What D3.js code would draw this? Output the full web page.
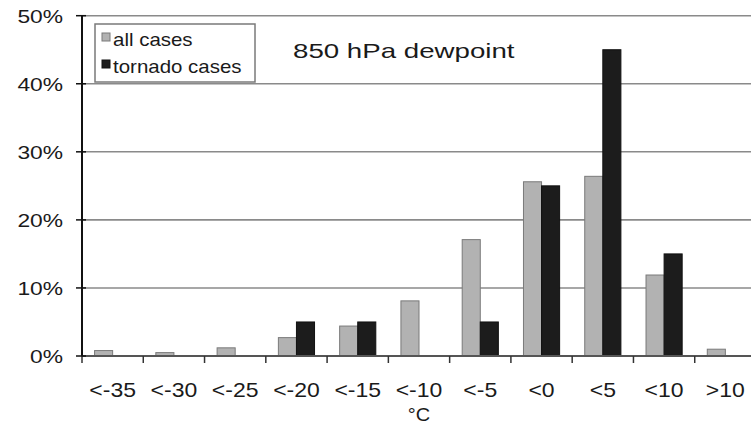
<!DOCTYPE html>
<html>
<head>
<meta charset="utf-8">
<script src="https://cdn.jsdelivr.net/npm/d3@7"></script>
<style>
  body { margin: 0; background: #fff; }
  text { font-family: "Liberation Sans", Arial, sans-serif; fill: #1a1a1a; }
</style>
</head>
<body>
<svg width="751" height="426"></svg>
<script>
// 850 hPa dewpoint distribution, all vs tornado cases

var categories = ["<-35", "<-30", "<-25", "<-20", "<-15", "<-10", "<-5", "<0", "<5", "<10", ">10"];
var allCases = [0.8, 0.5, 1.2, 2.7, 4.4, 8.1, 17.1, 25.6, 26.4, 11.9, 1.0];
var tornadoCases = [0, 0, 0, 5.0, 5.0, 0, 5.0, 25.0, 45.0, 15.0, 0];
var yTicks = [0, 10, 20, 30, 40, 50];
var seriesNames = ["all cases", "tornado cases"];

var svg = d3.select("svg"),
    width = +svg.attr("width"),
    height = +svg.attr("height");

var plotLeft = 82, plotRight = 756, plotTop = 15.7, plotBottom = 356;

var x0 = d3.scaleBand()
    .domain(categories)
    .range([plotLeft, plotRight])
    .paddingInner(0.41)
    .paddingOuter(0.205);

var x1 = d3.scaleBand()
    .domain(seriesNames)
    .range([0, x0.bandwidth()]);

var y = d3.scaleLinear()
    .domain([0, 50])
    .range([plotBottom, plotTop]);

var fills = { "all cases": "#b2b2b2", "tornado cases": "#1c1c1c" };
var strokes = { "all cases": "#7a7a7a", "tornado cases": "#111" };

// gridlines
svg.append("g")
    .selectAll("line")
    .data(yTicks.filter(function (d) { return d > 0; }))
    .enter().append("line")
    .attr("x1", plotLeft).attr("x2", width)
    .attr("y1", function (d) { return y(d); })
    .attr("y2", function (d) { return y(d); })
    .attr("stroke", "#8a8a8a")
    .attr("stroke-width", 1.6);

// bars
var rows = categories.map(function (c, i) {
    return { cat: c, values: [
        { key: "all cases", v: allCases[i] },
        { key: "tornado cases", v: tornadoCases[i] }
    ] };
});

var groups = svg.append("g")
    .selectAll("g")
    .data(rows)
    .enter().append("g")
    .attr("transform", function (d) { return "translate(" + x0(d.cat) + ",0)"; });

groups.selectAll("rect")
    .data(function (d) { return d.values.filter(function (s) { return s.v > 0; }); })
    .enter().append("rect")
    .attr("x", function (d) { return x1(d.key); })
    .attr("y", function (d) { return y(d.v); })
    .attr("width", x1.bandwidth())
    .attr("height", function (d) { return y(0) - y(d.v); })
    .attr("fill", function (d) { return fills[d.key]; })
    .attr("stroke", function (d) { return strokes[d.key]; })
    .attr("stroke-width", 1);

// x axis line
svg.append("line")
    .attr("x1", plotLeft).attr("x2", width)
    .attr("y1", y(0)).attr("y2", y(0))
    .attr("stroke", "#555")
    .attr("stroke-width", 2);

// x ticks at category boundaries
var gap = (x0.step() - x0.bandwidth()) / 2;
var bounds = categories.map(function (c) { return x0(c) - gap; });
bounds.push(x0(categories[categories.length - 1]) + x0.bandwidth() + gap);
svg.append("g")
    .selectAll("line")
    .data(bounds)
    .enter().append("line")
    .attr("x1", function (d) { return d; })
    .attr("x2", function (d) { return d; })
    .attr("y1", y(0)).attr("y2", y(0) + 7)
    .attr("stroke", "#333")
    .attr("stroke-width", 1.5);

// x labels
svg.append("g")
    .selectAll("text")
    .data(categories)
    .enter().append("text")
    .attr("transform", function (d) {
        return "translate(" + (x0(d) + x0.bandwidth() / 2) + ",397) scale(1.15,1)";
    })
    .attr("text-anchor", "middle")
    .attr("font-size", 20)
    .text(function (d) { return d; });

svg.append("text")
    .attr("transform", "translate(" + ((plotLeft + plotRight) / 2) + ",421) scale(1.05,1)")
    .attr("text-anchor", "middle")
    .attr("font-size", 19)
    .text("°C");

// y axis
svg.append("line")
    .attr("x1", plotLeft).attr("x2", plotLeft)
    .attr("y1", y(50)).attr("y2", y(0))
    .attr("stroke", "#111")
    .attr("stroke-width", 2);

svg.append("g")
    .selectAll("line")
    .data(yTicks)
    .enter().append("line")
    .attr("x1", plotLeft - 6).attr("x2", plotLeft + 4)
    .attr("y1", function (d) { return y(d); })
    .attr("y2", function (d) { return y(d); })
    .attr("stroke", "#111")
    .attr("stroke-width", 1.5);

svg.append("g")
    .selectAll("text")
    .data(yTicks)
    .enter().append("text")
    .attr("transform", function (d) {
        return "translate(63," + (y(d) + 7) + ") scale(1.2,1)";
    })
    .attr("text-anchor", "end")
    .attr("font-size", 19)
    .text(function (d) { return d + "%"; });

// legend
var legend = svg.append("g");
legend.append("rect")
    .attr("x", 95).attr("y", 24)
    .attr("width", 160).attr("height", 58)
    .attr("fill", "#fff")
    .attr("stroke", "#7a7a7a")
    .attr("stroke-width", 1.5);

var items = legend.selectAll("g")
    .data(seriesNames)
    .enter().append("g")
    .attr("transform", function (d, i) { return "translate(102," + (33 + i * 27) + ")"; });

items.append("rect")
    .attr("width", 8).attr("height", 8)
    .attr("fill", function (d) { return fills[d]; })
    .attr("stroke", function (d) { return strokes[d]; })
    .attr("stroke-width", 1);

items.append("text")
    .attr("transform", "translate(11,13) scale(1.17,1)")
    .attr("font-size", 17.5)
    .text(function (d) { return d; });

// title
svg.append("text")
    .attr("transform", "translate(293,58) scale(1.35,1)")
    .attr("font-size", 20.5)
    .text("850 hPa dewpoint");
</script>
</body>
</html>
